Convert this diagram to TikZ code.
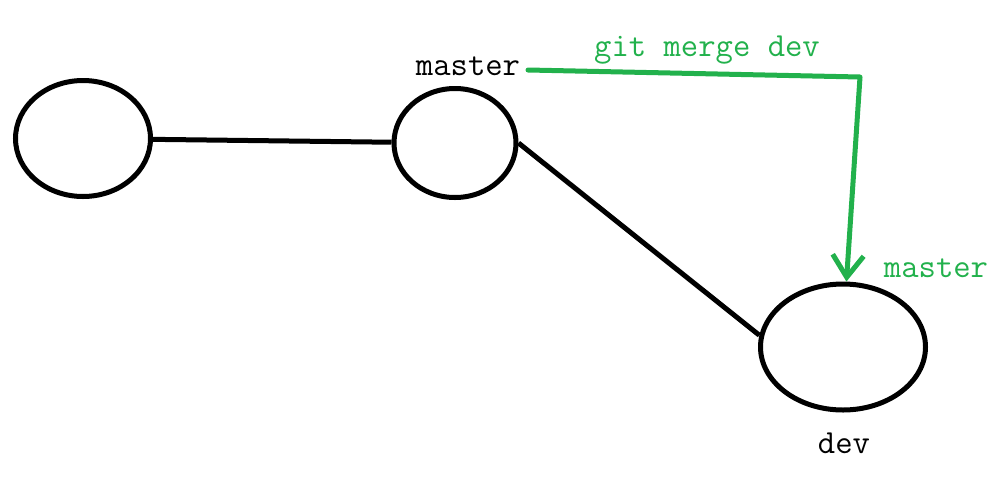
\documentclass[tikz,border=0pt]{standalone}
\usetikzlibrary{shapes.geometric,arrows.meta}
\definecolor{pgreen}{RGB}{34,177,76}
\begin{document}
\begin{tikzpicture}[x=1pt,y=-1pt,
  commit/.style={draw=black,line width=5pt,ellipse,inner sep=0pt},
  edge/.style={draw=black,line width=5pt},
  lbl/.style={font=\ttfamily\fontsize{33.7}{40}\selectfont,inner sep=0pt,anchor=base},
  gline/.style={draw=pgreen,line width=5pt,line cap=round,line join=round}]
\useasboundingbox (0,0) rectangle (1006,480);
\node[commit,minimum width=135pt,minimum height=116pt] (a) at (83,138.5) {};
\node[commit,minimum width=122pt,minimum height=109pt] (b) at (455,143) {};
\node[commit,minimum width=165pt,minimum height=126pt] (c) at (843,347) {};
\draw[edge] (a) -- (b);
\draw[edge] (b.east) -- (c.172);
\node[lbl] (m1) at (468,75) {master};
\node[lbl,text=pgreen] (gm) at (707,56) {git merge dev};
\node[lbl,text=pgreen] (m2) at (936,277) {master};
\node[lbl] (dv) at (844,453) {dev};
\coordinate (gs) at (528,70);
\coordinate (gc) at (860,77);
\draw[gline,-{Straight Barb[length=22pt,width=31pt,line width=5pt]}] (gs) -- (gc) -- (c.87);
\end{tikzpicture}
\end{document}
